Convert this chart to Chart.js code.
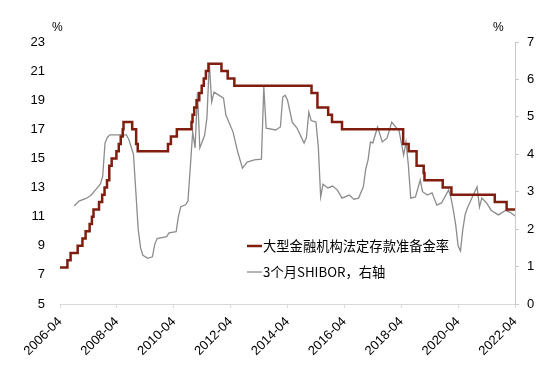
<!DOCTYPE html>
<html>
<head>
<meta charset="utf-8">
<script src="https://cdn.jsdelivr.net/npm/chart.js@4.4.0/dist/chart.umd.min.js"></script>
<style>
  html, body { margin: 0; padding: 0; background: #fff; }
  #wrap { width: 550px; height: 371px; }
</style>
</head>
<body>
<div id="wrap"><canvas id="rrrChart"></canvas></div>
<script>
// 大型金融机构法定存款准备金率（%）：生效日期与调整后数值
const rrrDates = [
  '2006-04-01', '2006-07-05', '2006-08-15', '2006-11-15', '2007-01-15', '2007-02-25',
  '2007-04-16', '2007-05-15', '2007-06-05', '2007-08-15', '2007-09-25', '2007-10-25',
  '2007-11-26', '2007-12-25', '2008-01-25', '2008-03-25', '2008-04-25', '2008-05-20',
  '2008-06-15', '2008-06-25', '2008-10-15', '2008-12-05', '2008-12-25', '2010-01-18',
  '2010-02-25', '2010-05-10', '2010-11-16', '2010-11-29', '2010-12-20', '2011-01-20',
  '2011-02-24', '2011-03-25', '2011-04-21', '2011-05-18', '2011-06-20', '2011-12-05',
  '2012-02-24', '2012-05-18', '2015-02-05', '2015-04-20', '2015-09-06', '2015-10-24',
  '2016-03-01', '2018-04-25', '2018-07-05', '2018-10-15', '2019-01-15', '2019-01-25',
  '2019-09-16', '2020-01-06', '2021-07-15', '2021-12-15', '2022-04-01'
];
const rrrValues = [
  7.5, 8.0, 8.5, 9.0, 9.5, 10.0,
  10.5, 11.0, 11.5, 12.0, 12.5, 13.0,
  13.5, 14.5, 15.0, 15.5, 16.0, 16.5,
  17.0, 17.5, 17.0, 16.0, 15.5, 16.0,
  16.5, 17.0, 17.5, 18.0, 18.5, 19.0,
  19.5, 20.0, 20.5, 21.0, 21.5, 21.0,
  20.5, 20.0, 19.5, 18.5, 18.0, 17.5,
  17.0, 16.0, 15.5, 14.5, 14.0, 13.5,
  13.0, 12.5, 12.0, 11.5, 11.5
];

// 3个月SHIBOR（%），右轴，按图读取的月度近似值
const shiborMonths = [
  '2006-10', '2006-12', '2007-03', '2007-05', '2007-07', '2007-09', '2007-10', '2007-11',
  '2007-12', '2008-01', '2008-08', '2008-09', '2008-11', '2008-12', '2009-01', '2009-02',
  '2009-03', '2009-05', '2009-07', '2009-08', '2009-09', '2010-01', '2010-02', '2010-05',
  '2010-06', '2010-07', '2010-09', '2010-10', '2010-12', '2011-01', '2011-02', '2011-03',
  '2011-05', '2011-06', '2011-07', '2011-08', '2011-09', '2011-11', '2012-01', '2012-02',
  '2012-05', '2012-07', '2012-09', '2012-11', '2013-02', '2013-05', '2013-06', '2013-07',
  '2013-11', '2014-01', '2014-02', '2014-03', '2014-04', '2014-06', '2014-08', '2014-11',
  '2014-12', '2015-01', '2015-02', '2015-04', '2015-05', '2015-06', '2015-07', '2015-09',
  '2015-11', '2016-01', '2016-03', '2016-06', '2016-08', '2016-10', '2016-12', '2017-01',
  '2017-02', '2017-03', '2017-04', '2017-06', '2017-08', '2017-10', '2017-12', '2018-02',
  '2018-03', '2018-05', '2018-06', '2018-07', '2018-08', '2018-10', '2018-12', '2019-01',
  '2019-03', '2019-05', '2019-07', '2019-09', '2019-12', '2020-01', '2020-02', '2020-03',
  '2020-04', '2020-05', '2020-06', '2020-07', '2020-08', '2020-10', '2020-12', '2021-01',
  '2021-02', '2021-04', '2021-06', '2021-09', '2021-12', '2022-02', '2022-04'
];
const shiborValues = [
  2.62, 2.75, 2.82, 2.9, 3.05, 3.2, 3.4, 4.3,
  4.45, 4.52, 4.52, 4.4, 4.0, 3.0, 2.0, 1.5,
  1.3, 1.22, 1.26, 1.6, 1.75, 1.8, 1.9, 1.93,
  2.35, 2.6, 2.65, 2.75, 4.6, 4.17, 5.66, 4.17,
  4.5, 4.97, 6.44, 5.4, 5.66, 5.58, 5.5, 5.05,
  4.6, 4.06, 3.63, 3.79, 3.85, 3.87, 5.8, 4.7,
  4.65, 4.73, 5.53, 5.58, 5.45, 4.86, 4.7, 4.3,
  4.45, 5.13, 4.9, 4.86, 4.2, 2.86, 3.2, 3.1,
  3.15, 3.05, 2.83, 2.91, 2.8, 2.83, 3.13, 3.6,
  3.85, 4.33, 4.3, 4.73, 4.33, 4.43, 4.86, 4.7,
  4.65, 3.98, 4.33, 3.71, 2.83, 2.86, 3.31, 3.0,
  2.91, 2.97, 2.64, 2.7, 3.05, 2.83, 2.5, 2.1,
  1.55, 1.42, 2.0, 2.4, 2.58, 2.86, 3.13, 2.59,
  2.83, 2.7, 2.5, 2.38, 2.5, 2.45, 2.35
];

const xTickLabels = ['2006-04', '2008-04', '2010-04', '2012-04', '2014-04',
  '2016-04', '2018-04', '2020-04', '2022-04'];
const leftTicks = [5, 7, 9, 11, 13, 15, 17, 19, 21, 23];
const rightTicks = [0, 1, 2, 3, 4, 5, 6, 7];

// 以2006-04为0的月序号
function toMonth(s) {
  const p = s.split('-').map(Number);
  const day = p[2] ? (p[2] - 1) / 30 : 0;
  return (p[0] - 2006) * 12 + (p[1] - 4) + day;
}

const redColor = '#7f1d0e';
const greyColor = '#8c8c8c';
const axisGrey = '#c8c8c8';
const latin = '"Liberation Sans", Arial, sans-serif';

// 图内图例和两侧的“%”
const extras = {
  id: 'extras',
  afterDraw(chart) {
    const ctx = chart.ctx;
    const a = chart.chartArea;
    ctx.save();
    ctx.fillStyle = '#000';
    ctx.font = '12px ' + latin;
    ctx.textBaseline = 'middle';
    ctx.textAlign = 'left';
    ctx.fillText('%', a.left - 8, a.top - 14);
    ctx.fillText('%', a.right - 22, a.top - 14);

    const items = chart.data.datasets;
    const lx = 247, ly = [246, 272];
    ctx.font = '13.3px "Noto Sans CJK SC", sans-serif';
    items.forEach((ds, i) => {
      ctx.strokeStyle = ds.borderColor;
      ctx.lineWidth = ds.borderWidth;
      ctx.beginPath();
      ctx.moveTo(lx, ly[i]);
      ctx.lineTo(lx + 15, ly[i]);
      ctx.stroke();
      ctx.fillStyle = '#000';
      ctx.fillText(ds.label, lx + 16, ly[i]);
    });
    ctx.restore();
  }
};

new Chart(document.getElementById('rrrChart'), {
  type: 'line',
  data: {
    datasets: [
      {
        label: '大型金融机构法定存款准备金率',
        data: rrrDates.map((d, i) => ({ x: toMonth(d), y: rrrValues[i] })),
        borderColor: redColor,
        borderWidth: 2.5,
        pointRadius: 0,
        stepped: true,
        yAxisID: 'y',
      },
      {
        label: '3个月SHIBOR，右轴',
        data: shiborMonths.map((d, i) => ({ x: toMonth(d), y: shiborValues[i] })),
        borderColor: greyColor,
        borderWidth: 1.3,
        pointRadius: 0,
        tension: 0,
        yAxisID: 'y1',
      }
    ]
  },
  options: {
    responsive: true,
    maintainAspectRatio: false,
    animation: false,
    layout: { padding: { top: 42, left: 0, right: 0, bottom: 0 } },
    plugins: {
      legend: { display: false },
      tooltip: { enabled: false },
    },
    scales: {
      x: {
        type: 'linear',
        min: 0,
        max: 192,
        afterBuildTicks: (axis) => {
          axis.ticks = xTickLabels.map((_, i) => ({ value: i * 24 }));
        },
        afterFit: (axis) => { axis.height = 67; },
        border: { display: true, color: '#d9d9d9', width: 1 },
        grid: { drawOnChartArea: false, color: '#d9d9d9', tickLength: 4 },
        ticks: {
          minRotation: 45,
          maxRotation: 45,
          padding: 6,
          color: '#000',
          font: { size: 13, family: latin },
          callback: (v) => xTickLabels[Math.round(v / 24)],
        }
      },
      y: {
        position: 'left',
        min: 5,
        max: 23,
        afterBuildTicks: (axis) => { axis.ticks = leftTicks.map(v => ({ value: v })); },
        afterFit: (axis) => { axis.width = 60; },
        border: { display: false },
        grid: { display: false, drawTicks: false },
        ticks: {
          padding: 15,
          color: '#000',
          font: { size: 13, family: latin },
        }
      },
      y1: {
        position: 'right',
        min: 0,
        max: 7,
        afterBuildTicks: (axis) => { axis.ticks = rightTicks.map(v => ({ value: v })); },
        afterFit: (axis) => { axis.width = 35; },
        border: { display: true, color: axisGrey, width: 1 },
        grid: { drawOnChartArea: false, color: axisGrey, tickLength: 4 },
        ticks: {
          padding: 8,
          color: '#000',
          font: { size: 13, family: latin },
        }
      }
    }
  },
  plugins: [extras]
});
</script>
</body>
</html>
